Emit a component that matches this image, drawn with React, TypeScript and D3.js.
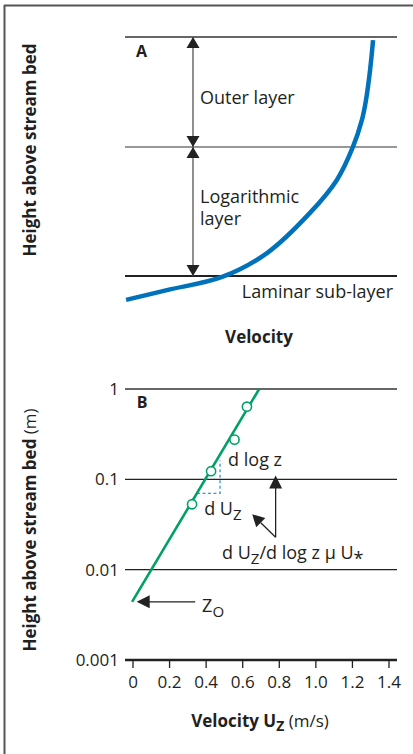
import React from "react";
import * as d3 from "d3";

// ---------- Panel A data (relative units) ----------
const profileVelocity = [0.004, 0.154, 0.357, 0.522, 0.68, 0.779, 0.838, 0.871, 0.886, 0.901, 0.912];
const profileHeight = [-0.1, -0.059, -0.004, 0.096, 0.264, 0.402, 0.54, 0.653, 0.736, 0.862, 0.987];
const layerBounds = [0, 0.54, 1];
const layerLabels = ["Laminar sub-layer", "Logarithmic", "layer", "Outer layer"];

// ---------- Panel B data ----------
const yTicksB = [0.001, 0.01, 0.1, 1];
const yTickLabelsB = ["0.001", "0.01", "0.1", "1"];
const xTicksB = [0, 0.2, 0.4, 0.6, 0.8, 1.0, 1.2, 1.4];
const xTickLabelsB = ["0", "0.2", "0.4", "0.6", "0.8", "1.0", "1.2", "1.4"];
const obsVelocity = [0.323, 0.427, 0.555, 0.623];
const obsHeight = [0.053, 0.123, 0.275, 0.637];
const fitVelocity = [-0.005, 0.69];
const fitHeight = [0.0044, 1];
const z0 = 0.0044;

const FONT = "'Open Sans', 'Noto Sans', sans-serif";
const TXT = "#231f20";

export default function App() {
  // Panel A scales
  const xA = d3.scaleLinear().domain([0, 1]).range([125, 397]);
  const yA = d3.scaleLinear().domain([0, 1]).range([276, 37]);
  // Panel B scales
  const xB = d3.scaleLinear().domain([0, 1.4]).range([133, 389]);
  const yB = d3.scaleLog().domain([0.001, 1]).range([660, 389]);

  const curveA = d3
    .line<number>()
    .x((_, i) => xA(profileVelocity[i]))
    .y((_, i) => yA(profileHeight[i]))
    .curve(d3.curveCatmullRom.alpha(0.5))(profileVelocity);

  const fitLine = d3
    .line<number>()
    .x((_, i) => xB(fitVelocity[i]))
    .y((_, i) => yB(fitHeight[i]))(fitVelocity);

  const arrowX = xA(0.25);
  const head = (x: number, y: number, dir: number, hw = 6.5, len = 11) =>
    `M${x},${y} L${x - hw},${y + dir * len} L${x + hw},${y + dir * len} Z`;

  const lineX0 = xB(0) - 8;
  const lineX1 = xB(1.4) + 8;

  // annotation anchors in panel-B data units
  const vArrowU = 0.78;
  const vArrowBase = 0.0228;
  const vArrowTip = 0.11;
  const dArrowTipU = 0.652;
  const dArrowTipZ = 0.041;
  const vx = xB(vArrowU);
  const vyTip = yB(vArrowTip);
  const vyBase = yB(vArrowBase);
  const dtx = xB(dArrowTipU);
  const dty = yB(dArrowTipZ);
  const ang = Math.atan2(vyBase - dty, vx - dtx);
  const hl = 12, hw = 6.5;
  const bx = dtx + Math.cos(ang) * hl, by = dty + Math.sin(ang) * hl;
  const px = -Math.sin(ang) * hw, py = Math.cos(ang) * hw;

  const z0y = yB(z0);
  const z0TipX = xB(0.02);
  const z0EndX = xB(0.34);

  const dashU = 0.476;
  const dashZlow = 0.07;
  const dashZhigh = 0.162;
  const dashUleft = 0.35;

  return (
    <svg
      width={413}
      height={754}
      style={{ position: "absolute", left: 0, top: 0, background: "#fff" }}
      fontFamily={FONT}
    >
      {/* frame */}
      <line x1={4.5} y1={5} x2={4.5} y2={754} stroke="#555" strokeWidth={2} />
      <line x1={4} y1={5.5} x2={413} y2={5.5} stroke="#555" strokeWidth={2} />

      {/* ---------- Panel A ---------- */}
      <line x1={xA(0)} x2={xA(1)} y1={yA(layerBounds[2])} y2={yA(layerBounds[2])} stroke="#666" strokeWidth={1.8} />
      <line x1={xA(0)} x2={xA(1)} y1={yA(layerBounds[1])} y2={yA(layerBounds[1])} stroke="#333" strokeWidth={1.1} />
      <line x1={xA(0)} x2={xA(1)} y1={yA(layerBounds[0])} y2={yA(layerBounds[0])} stroke="#222" strokeWidth={2.2} />

      {/* arrows */}
      <line x1={arrowX} x2={arrowX} y1={yA(1)} y2={yA(0)} stroke="#555" strokeWidth={1.3} />
      <path d={head(arrowX, yA(1), 1)} fill="#222" />
      <path d={head(arrowX, yA(layerBounds[1]), -1)} fill="#222" />
      <path d={head(arrowX, yA(layerBounds[1]), 1)} fill="#222" />
      <path d={head(arrowX, yA(0), -1)} fill="#222" />

      <path d={curveA || ""} fill="none" stroke="#0072bc" strokeWidth={4.5} />

      <text x={xA(0.04)} y={57} fontSize={16} fontWeight="bold" fill={TXT}>A</text>
      <text x={arrowX + 7} y={104} fontSize={18} fill={TXT}>{layerLabels[3]}</text>
      <text x={arrowX + 7} y={203} fontSize={18} fill={TXT}>{layerLabels[1]}</text>
      <text x={arrowX + 7} y={225} fontSize={18} fill={TXT}>{layerLabels[2]}</text>
      <text x={xA(1) - 4} y={298} fontSize={18} fill={TXT} textAnchor="end">{layerLabels[0]}</text>
      <text x={259} y={343} fontSize={17} fontWeight="bold" fill={TXT} textAnchor="middle">Velocity</text>
      <text
        transform={`translate(36,150) rotate(-90)`}
        fontSize={17}
        fontWeight="bold"
        fill={TXT}
        textAnchor="middle"
      >
        Height above stream bed
      </text>

      {/* ---------- Panel B ---------- */}
      {yTicksB.map((t, i) => (
        <g key={t}>
          <line
            x1={lineX0}
            x2={lineX1}
            y1={yB(t)}
            y2={yB(t)}
            stroke={i === 3 ? "#666" : "#222"}
            strokeWidth={i === 0 ? 2.6 : i === 3 ? 1.8 : 1.1}
          />
          <text x={xB(0) - 14} y={yB(t) + 6} fontSize={17} fill={TXT} textAnchor="end">
            {yTickLabelsB[i]}
          </text>
        </g>
      ))}
      {xTicksB.map((t, i) => (
        <g key={t}>
          <line x1={xB(t)} x2={xB(t)} y1={yB(0.001)} y2={yB(0.001) + 8} stroke="#222" strokeWidth={1.3} />
          <text x={xB(t)} y={688} fontSize={17} fill={TXT} textAnchor="middle">
            {xTickLabelsB[i]}
          </text>
        </g>
      ))}

      {/* dashed construction */}
      <path
        d={`M${xB(dashUleft)},${yB(dashZlow)} L${xB(dashU)},${yB(dashZlow)} L${xB(dashU)},${yB(dashZhigh)}`}
        fill="none"
        stroke="#3d8fd9"
        strokeWidth={1.3}
        strokeDasharray="3,2.5"
      />

      <path d={fitLine || ""} fill="none" stroke="#00a066" strokeWidth={2.6} />
      {obsVelocity.map((u, i) => (
        <circle key={i} cx={xB(u)} cy={yB(obsHeight[i])} r={4.6} fill="#fff" stroke="#00a066" strokeWidth={1.6} />
      ))}

      {/* vertical arrow */}
      <line x1={vx} x2={vx} y1={vyBase} y2={vyTip + 10} stroke="#222" strokeWidth={1.3} />
      <path d={head(vx, vyTip, 1, 6.5, 13)} fill="#222" />
      {/* diagonal arrow */}
      <line x1={vx} y1={vyBase} x2={bx} y2={by} stroke="#222" strokeWidth={1.3} />
      <path d={`M${dtx},${dty} L${bx + px},${by + py} L${bx - px},${by - py} Z`} fill="#222" />

      {/* z0 arrow */}
      <line x1={z0TipX + 10} x2={z0EndX} y1={z0y} y2={z0y} stroke="#222" strokeWidth={1.3} />
      <path d={`M${z0TipX},${z0y} L${z0TipX + 13},${z0y - 6.5} L${z0TipX + 13},${z0y + 6.5} Z`} fill="#222" />

      <text x={xB(0.02)} y={yB(0.61)} fontSize={16} fontWeight="bold" fill={TXT}>B</text>
      <text x={xB(0.52)} y={yB(0.139)} fontSize={18} fill={TXT}>d log z</text>
      <text x={xB(0.389)} y={yB(0.04)} fontSize={18} fill={TXT}>
        d U<tspan fontSize={15} dy={5}>Z</tspan>
      </text>
      <text x={xB(0.487)} y={yB(0.0132)} fontSize={18} fill={TXT}>
        d U<tspan fontSize={15} dy={5}>Z</tspan>
        <tspan dy={-5}>/d log z μ U</tspan>
        <tspan fontSize={18} dy={6}>*</tspan>
      </text>
      <text x={xB(0.378)} y={yB(0.0034)} fontSize={18} fill={TXT}>
        Z<tspan fontSize={15} dy={5}>O</tspan>
      </text>

      <text x={260} y={727} fontSize={17} fill={TXT} textAnchor="middle">
        <tspan fontWeight="bold">Velocity U</tspan>
        <tspan fontWeight="bold" fontSize={14} dy={4}>Z</tspan>
        <tspan dy={-4}> (m/s)</tspan>
      </text>
      <text
        transform={`translate(36,530) rotate(-90)`}
        fontSize={17}
        fill={TXT}
        textAnchor="middle"
      >
        <tspan fontWeight="bold">Height above stream bed</tspan>
        <tspan> (m)</tspan>
      </text>
    </svg>
  );
}
